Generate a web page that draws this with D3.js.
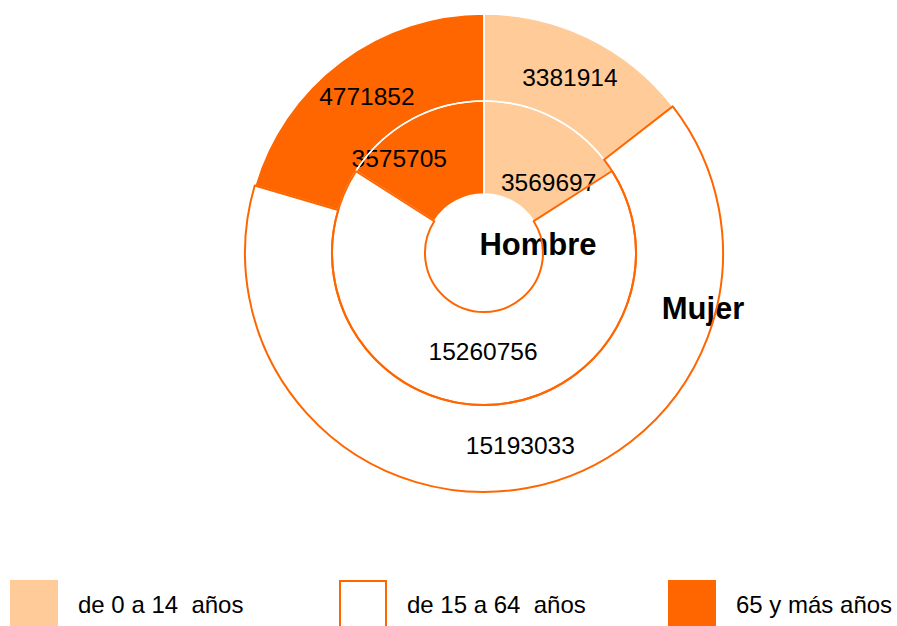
<!doctype html>
<html>
<head>
<meta charset="utf-8">
<style>
    body { margin: 0; background: #fff; }
    text { font-family: "Liberation Sans", Arial, sans-serif; }
    .lbl { font-size: 24.5px; fill: #000; }
    .ring { font-size: 31px; font-weight: bold; fill: #000; }
    .leg { font-size: 24px; fill: #000; white-space: pre; }
</style>
<script src="https://d3js.org/d3.v7.min.js"></script>
</head>
<body>
<svg id="chart" width="897" height="626"></svg>
<script>

    // datos
    var categories = ["de 0 a 14  años", "de 15 a 64  años", "65 y más años"];
    var hombre = [3569697, 15260756, 3575705];
    var mujer = [3381914, 15193033, 4771852];
    var ringNames = ["Hombre", "Mujer"];

    var fills = ["#FFCC99", "#FFFFFF", "#FF6600"];
    var strokes = ["#FFFFFF", "#FF6600", "#FFFFFF"];
    // small nudges for the inner ring labels
    var innerNudge = [[14, 22], [-1, -7], [-34, -2]];

    var svg = d3.select("#chart"),
        cx = 484, cy = 253,
        r0 = 59, r1 = 152, r2 = 239;

    var g = svg.append("g").attr("transform", "translate(" + cx + "," + cy + ")");

    var pie = d3.pie().sort(null).value(function(d) { return d; });

    var rings = [
        { name: ringNames[0], data: pie(hombre), arc: d3.arc().innerRadius(r0).outerRadius(r1), nudge: innerNudge },
        { name: ringNames[1], data: pie(mujer), arc: d3.arc().innerRadius(r1).outerRadius(r2), nudge: null }
    ];

    // fills
    rings.forEach(function(ring) {
        g.selectAll(null)
         .data(ring.data)
         .enter().append("path")
         .attr("d", ring.arc)
         .attr("fill", function(d, i) { return fills[i]; })
         .attr("stroke", "none");
    });

    // value labels
    rings.forEach(function(ring) {
        g.selectAll(null)
         .data(ring.data)
         .enter().append("text")
         .attr("class", "lbl")
         .attr("text-anchor", "middle")
         .attr("dy", "0.35em")
         .attr("transform", function(d, i) {
             var c = ring.arc.centroid(d);
             if (ring.nudge) { c[0] += ring.nudge[i][0]; c[1] += ring.nudge[i][1]; }
             return "translate(" + c[0] + "," + c[1] + ")";
         })
         .text(function(d) { return d.data; });
    });

    // ring names
    g.append("text").attr("class", "ring").attr("text-anchor", "middle")
     .attr("x", 54).attr("y", 2).text(ringNames[0]);
    g.append("text").attr("class", "ring").attr("text-anchor", "middle")
     .attr("x", 219).attr("y", 66).text(ringNames[1]);

    // outlines: white first, orange on top
    [0, 2, 1].forEach(function(k) {
        rings.forEach(function(ring) {
            g.append("path")
             .attr("d", ring.arc(ring.data[k]))
             .attr("fill", "none")
             .attr("stroke", strokes[k])
             .attr("stroke-width", k === 1 ? 2 : 1.5)
             .attr("stroke-linejoin", "round");
        });
    });

    // legend
    var legend = svg.append("g").attr("transform", "translate(0,580)");
    var item = legend.selectAll("g")
        .data(categories)
        .enter().append("g")
        .attr("transform", function(d, i) { return "translate(" + (10 + i * 329) + ",0)"; });

    item.append("rect")
        .attr("x", function(d, i) { return i === 1 ? 1 : 0; })
        .attr("y", function(d, i) { return i === 1 ? 1 : 0; })
        .attr("width", function(d, i) { return i === 1 ? 46 : 48; })
        .attr("height", 56)
        .attr("fill", function(d, i) { return fills[i]; })
        .attr("stroke", function(d, i) { return i === 1 ? "#FF6600" : "none"; })
        .attr("stroke-width", 2);

    item.append("text")
        .attr("class", "leg")
        .attr("x", 68)
        .attr("y", 33)
        .text(function(d) { return d; });
</script>
</body>
</html>
